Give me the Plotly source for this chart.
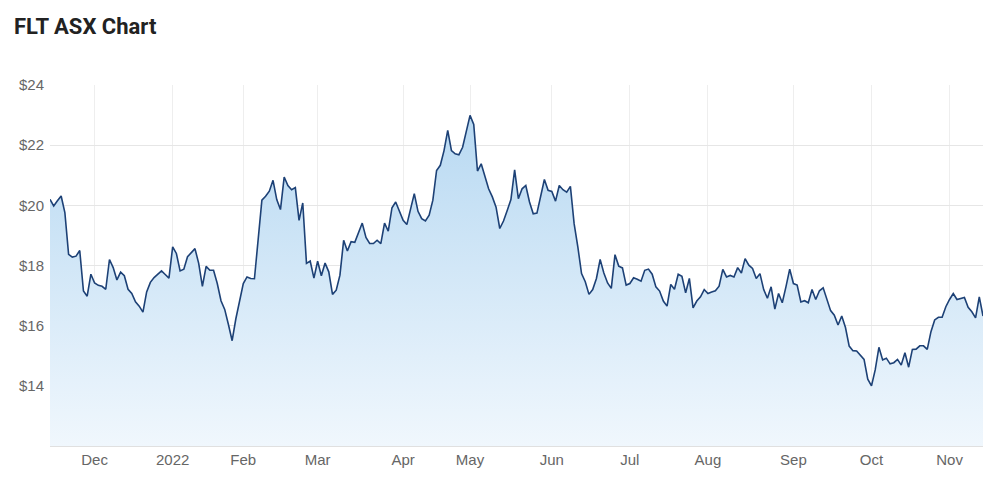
import pandas as pd
import plotly.graph_objects as go

# ASX trading calendar for the period shown (weekdays minus exchange holidays)
start_date = "2021-11-15"
end_date = "2022-11-14"
asx_holidays = ["2021-12-27", "2021-12-28", "2022-01-03", "2022-01-26",
                "2022-04-15", "2022-04-18", "2022-04-25", "2022-06-13",
                "2022-09-22"]

# Daily closing prices (AUD)
prices = [
    20.20, 19.98, 20.15, 20.31, 19.76, 18.37, 18.28, 18.31, 18.50, 17.15,
    16.98, 17.71, 17.42, 17.34, 17.31, 17.21, 18.20, 17.93, 17.52, 17.78,
    17.66, 17.21, 17.07, 16.79, 16.65, 16.45, 17.12, 17.44, 17.60, 17.72,
    17.82, 17.70, 17.58, 18.62, 18.40, 17.82, 17.88, 18.29, 18.43, 18.56,
    18.07, 17.31, 17.97, 17.84, 17.84, 17.40, 16.83, 16.54, 16.04, 15.50,
    16.23, 16.80, 17.40, 17.62, 17.57, 17.56, 18.90, 20.17, 20.30, 20.47,
    20.83, 20.19, 19.86, 20.94, 20.66, 20.52, 20.59, 19.50, 20.08, 18.07,
    18.15, 17.58, 18.14, 17.66, 18.08, 17.79, 17.04, 17.18, 17.68, 18.84,
    18.48, 18.79, 18.77, 19.11, 19.41, 18.93, 18.73, 18.73, 18.84, 18.73,
    19.41, 19.14, 19.92, 20.11, 19.78, 19.50, 19.36, 19.83, 20.39, 19.80,
    19.56, 19.48, 19.67, 20.17, 21.16, 21.33, 21.82, 22.49, 21.82, 21.71,
    21.68, 21.93, 22.49, 22.99, 22.69, 21.14, 21.38, 20.92, 20.55, 20.28,
    19.94, 19.23, 19.48, 19.83, 20.19, 21.18, 20.22, 20.55, 20.66, 20.11,
    19.72, 19.74, 20.33, 20.86, 20.50, 20.46, 20.14, 20.66, 20.52, 20.44,
    20.63, 19.39, 18.62, 17.73, 17.46, 17.04, 17.20, 17.57, 18.20, 17.75,
    17.42, 17.24, 18.36, 17.98, 17.92, 17.35, 17.40, 17.59, 17.54, 17.48,
    17.84, 17.88, 17.71, 17.29, 17.15, 16.82, 16.65, 17.37, 17.21, 17.71,
    17.64, 17.09, 17.57, 16.59, 16.82, 16.96, 17.20, 17.07, 17.12, 17.16,
    17.31, 17.87, 17.62, 17.67, 17.62, 17.93, 17.75, 18.23, 18.01, 17.90,
    17.57, 17.73, 17.20, 16.91, 17.29, 16.55, 17.07, 16.76, 17.30, 17.88,
    17.40, 17.35, 16.79, 16.83, 16.76, 17.20, 16.87, 17.16, 17.26, 16.85,
    16.50, 16.35, 16.02, 16.32, 15.94, 15.32, 15.17, 15.16, 15.02, 14.88,
    14.22, 14.00, 14.53, 15.28, 14.86, 14.92, 14.73, 14.77, 14.88, 14.69,
    15.10, 14.62, 15.21, 15.22, 15.33, 15.33, 15.21, 15.80, 16.19, 16.28,
    16.28, 16.63, 16.87, 17.07, 16.87, 16.91, 16.94, 16.61, 16.46, 16.26,
    16.96, 16.32,
]

# X tick positions (first trading day of each month) and labels
tick_dates = ["2021-12-01", "2022-01-04", "2022-02-01", "2022-03-01",
              "2022-04-01", "2022-05-02", "2022-06-01", "2022-07-01",
              "2022-08-01", "2022-09-01", "2022-10-03", "2022-11-01"]
tick_labels = ["Dec", "2022", "Feb", "Mar", "Apr", "May", "Jun", "Jul",
               "Aug", "Sep", "Oct", "Nov"]

# Y axis ticks
y_ticks = [14, 16, 18, 20, 22, 24]
y_labels = ["$14", "$16", "$18", "$20", "$22", "$24"]

dates = pd.bdate_range(start_date, end_date, freq="C", holidays=asx_holidays)
date_str = [d.strftime("%Y-%m-%d") for d in dates]

fig = go.Figure()
fig.add_trace(go.Scatter(
    x=date_str,
    y=prices,
    mode="lines",
    line=dict(color="#1d4176", width=1.6),
    fill="tozeroy",
    fillgradient=dict(
        type="vertical",
        start=12,
        stop=23,
        colorscale=[[0, "rgba(240,247,253,1)"], [1, "rgba(184,217,242,1)"]],
    ),
    hoverinfo="skip",
))

font_family = "Liberation Sans, Arial, sans-serif"

fig.update_layout(
    width=1000,
    height=485,
    margin=dict(l=50, r=17, t=85, b=39),
    paper_bgcolor="white",
    plot_bgcolor="white",
    showlegend=False,
    title=dict(
        text="<b>FLT ASX Chart</b>",
        font=dict(family="Roboto, Liberation Sans, Arial, sans-serif", size=22, color="#222222"),
        x=14 / 1000, xref="container", xanchor="left",
        y=1 - 26 / 485, yref="container", yanchor="middle",
    ),
    xaxis=dict(
        type="category",
        range=[0, len(date_str) - 1],
        tickmode="array",
        tickvals=tick_dates,
        ticktext=tick_labels,
        showgrid=True,
        gridcolor="#eeeeee",
        gridwidth=1,
        showline=True,
        linecolor="#e0e0e0",
        linewidth=1,
        ticks="",
        tickfont=dict(family=font_family, size=15, color="#666666"),
        zeroline=False,
        fixedrange=True,
    ),
    yaxis=dict(
        range=[12, 24],
        tickmode="array",
        tickvals=y_ticks,
        ticktext=y_labels,
        showgrid=True,
        gridcolor="#e6e6e6",
        gridwidth=1,
        zeroline=False,
        ticks="",
        ticklabelstandoff=5,
        tickfont=dict(family=font_family, size=15, color="#666666"),
        fixedrange=True,
    ),
)

fig.write_html("out.html")
